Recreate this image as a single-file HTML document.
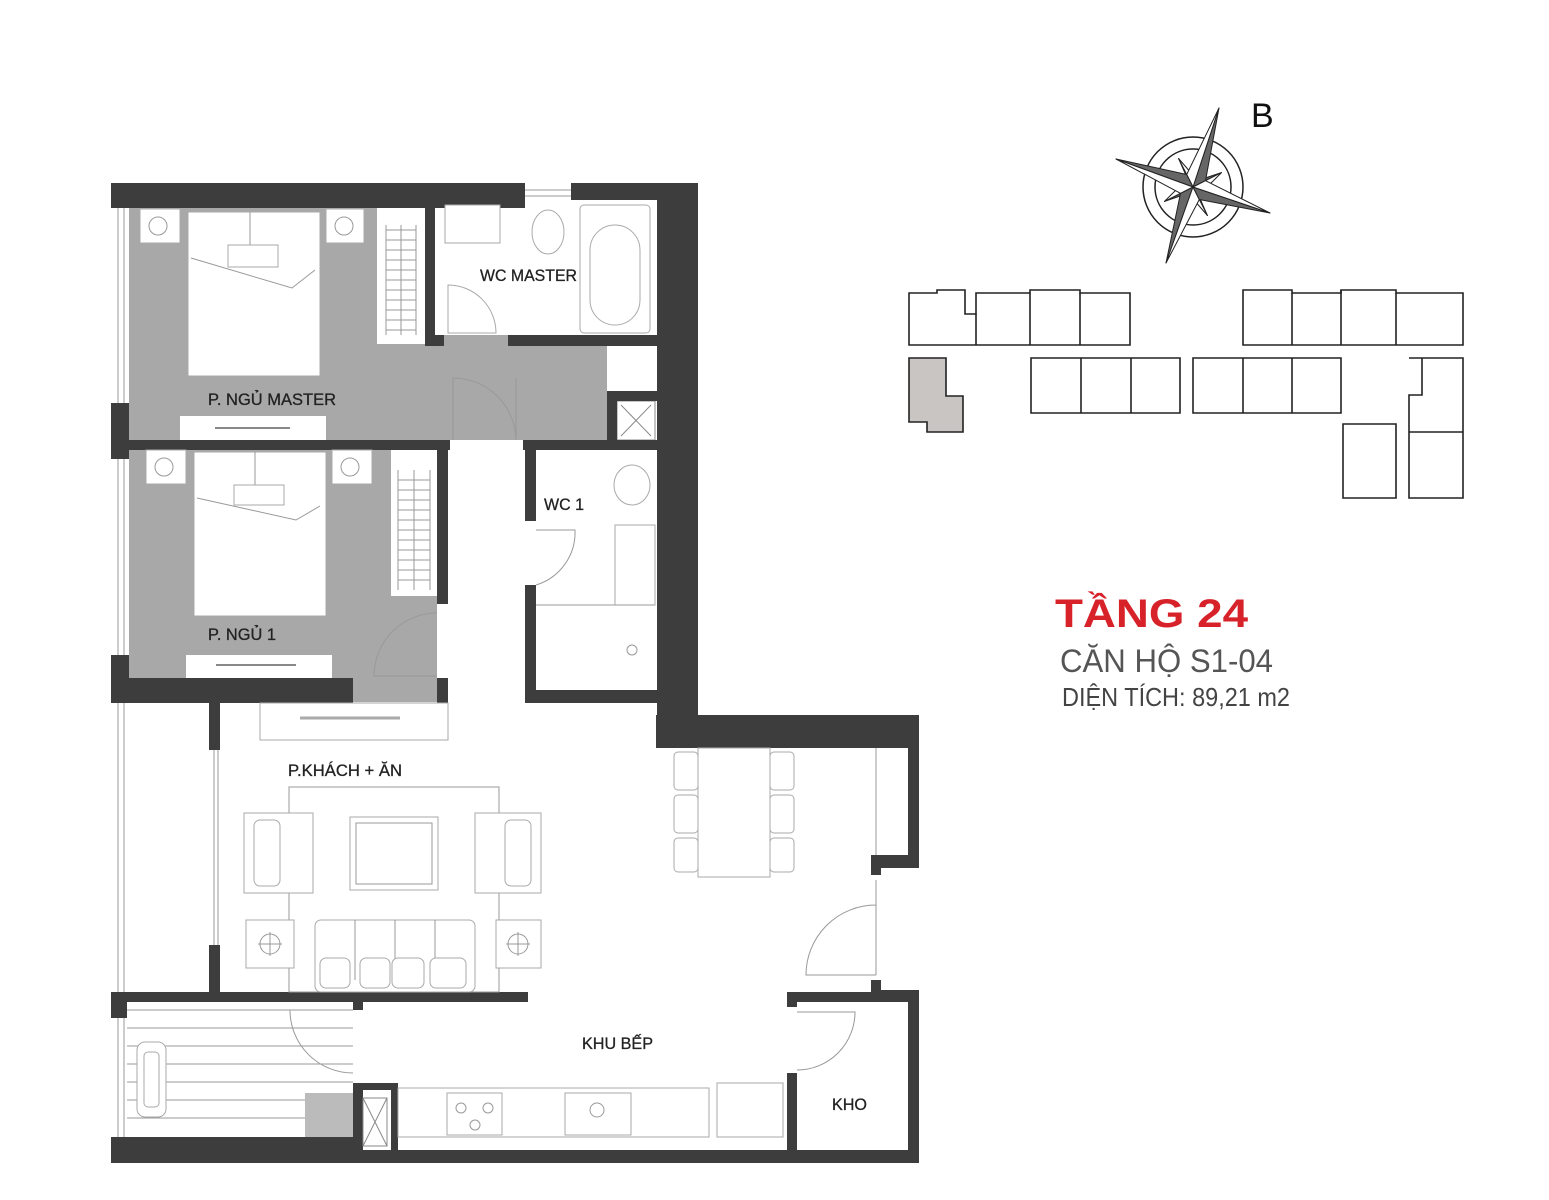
<!DOCTYPE html>
<html><head><meta charset="utf-8"><style>
html,body{margin:0;padding:0;background:#fff;}
svg{display:block}
.w{fill:#3d3d3d}
.l{fill:none;stroke:#999;stroke-width:1}
.f{fill:#fff;stroke:#aaa;stroke-width:1}
.t{font-family:"Liberation Sans",sans-serif;fill:#222;font-size:17px;stroke:#222;stroke-width:0.3}
.b{fill:#fff;stroke:#222;stroke-width:1.6}
</style></head><body>
<svg width="1549" height="1200" viewBox="0 0 1549 1200" xmlns="http://www.w3.org/2000/svg">
<rect x="129" y="208" width="478" height="232" fill="#a8a8a8"/>
<rect x="129" y="450" width="308" height="228" fill="#a8a8a8"/>
<rect x="353" y="678" width="84" height="24" fill="#a8a8a8"/>
<rect x="435" y="200" width="220" height="135" fill="#fff"/>
<rect x="607" y="346" width="48" height="45" fill="#fff"/>
<rect x="617" y="401" width="38" height="39" fill="#fff" stroke="#888"/>
<path d="M621 405L651 436M651 405L621 436" stroke="#888" stroke-width="1"/>
<rect class="w" x="111" y="183" width="414" height="25"/>
<rect class="w" x="571" y="183" width="86" height="17"/>
<rect class="w" x="657" y="183" width="41" height="565"/>
<rect class="w" x="425" y="200" width="10" height="146"/>
<rect class="w" x="425" y="335" width="19" height="11"/>
<rect class="w" x="508" y="335" width="149" height="11"/>
<rect class="w" x="607" y="391" width="50" height="10"/>
<rect class="w" x="607" y="391" width="10" height="49"/>
<rect class="w" x="111" y="403" width="18" height="56"/>
<rect class="w" x="111" y="440" width="339" height="10"/>
<rect class="w" x="523" y="440" width="134" height="10"/>
<rect class="w" x="437" y="450" width="11" height="154"/>
<rect class="w" x="437" y="678" width="11" height="25"/>
<rect class="w" x="525" y="450" width="11" height="71"/>
<rect class="w" x="525" y="585" width="11" height="118"/>
<rect class="w" x="525" y="690" width="132" height="13"/>
<rect class="w" x="111" y="655" width="18" height="23"/>
<rect class="w" x="111" y="678" width="242" height="25"/>
<rect class="w" x="656" y="715" width="263" height="33"/>
<rect class="w" x="908" y="748" width="11" height="120"/>
<rect class="w" x="871" y="855" width="48" height="13"/>
<rect class="w" x="871" y="855" width="10" height="20"/>
<rect class="w" x="871" y="980" width="10" height="22"/>
<rect class="w" x="871" y="990" width="48" height="12"/>
<rect class="w" x="908" y="990" width="11" height="173"/>
<rect class="w" x="787" y="992" width="132" height="10"/>
<rect class="w" x="787" y="992" width="10" height="15"/>
<rect class="w" x="787" y="1073" width="10" height="80"/>
<rect class="w" x="209" y="703" width="11" height="47"/>
<rect class="w" x="209" y="945" width="11" height="50"/>
<rect class="w" x="111" y="992" width="417" height="10"/>
<rect class="w" x="111" y="992" width="16" height="26"/>
<rect class="w" x="353" y="1002" width="10" height="8"/>
<rect class="w" x="353" y="1083" width="10" height="80"/>
<rect class="w" x="111" y="1137" width="244" height="26"/>
<rect class="w" x="353" y="1150" width="566" height="13"/>
<rect class="w" x="353" y="1083" width="45" height="7"/>
<rect class="w" x="391" y="1083" width="7" height="70"/>
<rect x="363" y="1098" width="24" height="48" fill="#fff" stroke="#888"/>
<path d="M363 1098L387 1146M387 1098L363 1146" stroke="#888"/>
<path d="M118 208V403M124 208V403M118 459V655M124 459V655M118 703V992M124 703V992M214 750V945M218 750V945M118 1018V1137M124 1018V1137" class="l"/>
<path d="M525 190H571M525 196H571" class="l"/>
<g class="l"><path d="M127 1010H353M127 1028H353M127 1046H353M127 1064H353M127 1082H353M127 1100H353M127 1118H353"/></g>
<rect x="137" y="1042" width="29" height="75" rx="8" class="f"/>
<rect x="144" y="1052" width="15" height="55" rx="4" class="f"/>
<rect x="305" y="1093" width="48" height="44" fill="#bbb"/>
<rect x="140" y="209" width="40" height="34" class="f"/><circle cx="158" cy="226" r="9" class="l"/>
<rect x="326" y="209" width="38" height="34" class="f"/><circle cx="344" cy="226" r="9" class="l"/>
<rect x="188" y="212" width="132" height="164" class="f"/>
<path d="M191 258L292 288L315 270M250 212V245" class="l"/>
<rect x="228" y="245" width="50" height="22" class="f"/>
<rect x="377" y="208" width="48" height="136" fill="#fff"/>
<path d="M386 225V335M416 225V335M386 230H416M386 240H416M386 250H416M386 260H416M386 270H416M386 280H416M386 290H416M386 300H416M386 310H416M386 320H416M386 330H416M401 225V335" class="l"/>
<rect x="180" y="416" width="146" height="24" fill="#fff"/>
<path d="M215 428H290" stroke="#888" stroke-width="2"/>
<rect x="445" y="205" width="55" height="38" class="f"/>
<ellipse cx="548" cy="232" rx="16" ry="22" class="f"/>
<rect x="580" y="205" width="70" height="128" rx="4" class="f"/>
<rect x="590" y="225" width="50" height="100" rx="25" class="f"/>
<path d="M448 285A48 48 0 0 1 496 333H448Z" class="f"/>
<path d="M453 440V378A63 63 0 0 1 516 440M516 378V440" class="l"/>
<rect x="146" y="450" width="40" height="34" class="f"/><circle cx="164" cy="467" r="9" class="l"/>
<rect x="332" y="450" width="40" height="34" class="f"/><circle cx="350" cy="467" r="9" class="l"/>
<rect x="194" y="452" width="132" height="164" class="f"/>
<path d="M197 498L296 520L320 506M255 452V485" class="l"/>
<rect x="234" y="485" width="50" height="20" class="f"/>
<rect x="391" y="450" width="46" height="146" fill="#fff"/>
<path d="M398 470V590M430 470V590M398 480H430M398 490H430M398 500H430M398 510H430M398 520H430M398 530H430M398 540H430M398 550H430M398 560H430M398 570H430M398 580H430M414 470V590" class="l"/>
<rect x="186" y="655" width="146" height="23" fill="#fff"/>
<path d="M216 665H296" stroke="#888" stroke-width="2"/>
<path d="M437 613A63 63 0 0 0 374 676H437" class="l"/>
<ellipse cx="632" cy="485" rx="18" ry="20" class="f"/>
<rect x="615" y="525" width="40" height="80" class="f"/>
<path d="M536 605H655M536 530H575A55 55 0 0 1 536 585" class="l"/>
<circle cx="632" cy="650" r="5" class="l"/>
<rect x="260" y="703" width="188" height="37" class="f"/>
<path d="M300 718H400" stroke="#aaa" stroke-width="3"/>
<rect x="289" y="787" width="210" height="205" class="l"/>
<rect x="244" y="813" width="69" height="80" class="f"/>
<rect x="254" y="820" width="26" height="66" rx="6" class="f"/>
<rect x="475" y="813" width="66" height="80" class="f"/>
<rect x="505" y="820" width="26" height="66" rx="6" class="f"/>
<rect x="350" y="817" width="88" height="73" class="f"/>
<rect x="356" y="823" width="76" height="61" class="l"/>
<rect x="246" y="920" width="48" height="48" class="f"/><circle cx="270" cy="944" r="10" class="l"/><path d="M258 944H282M270 932V956" class="l"/>
<rect x="496" y="920" width="45" height="48" class="f"/><circle cx="518" cy="944" r="10" class="l"/><path d="M506 944H530M518 932V956" class="l"/>
<rect x="315" y="920" width="160" height="72" rx="6" class="f"/>
<path d="M355 920V980M395 920V980M435 920V980" class="l"/>
<rect x="320" y="958" width="30" height="30" rx="6" class="f"/><rect x="360" y="958" width="30" height="30" rx="6" class="f"/><rect x="392" y="958" width="32" height="30" rx="6" class="f"/><rect x="430" y="958" width="36" height="30" rx="6" class="f"/>
<rect x="698" y="748" width="72" height="129" class="f"/>
<rect x="674" y="752" width="24" height="38" rx="4" class="f"/><rect x="674" y="795" width="24" height="38" rx="4" class="f"/><rect x="674" y="838" width="24" height="34" rx="4" class="f"/>
<rect x="770" y="752" width="24" height="38" rx="4" class="f"/><rect x="770" y="795" width="24" height="38" rx="4" class="f"/><rect x="770" y="838" width="24" height="34" rx="4" class="f"/>
<path d="M876 748V855" class="l"/>
<path d="M876 880V975M876 905A70 70 0 0 0 806 975H876" class="l"/>
<path d="M290 1010H353M290 1010A63 63 0 0 0 353 1073" class="l"/>
<rect x="398" y="1088" width="311" height="49" class="f"/>
<rect x="447" y="1093" width="55" height="42" class="f"/>
<circle cx="461" cy="1108" r="5" class="l"/><circle cx="488" cy="1108" r="5" class="l"/><circle cx="475" cy="1125" r="5" class="l"/>
<rect x="565" y="1093" width="66" height="42" class="f"/><circle cx="597" cy="1110" r="7" class="l"/>
<rect x="717" y="1083" width="66" height="54" class="f"/>
<path d="M797 1012H855A58 58 0 0 1 797 1070" class="l"/>
<text class="t" x="480" y="281" textLength="97" lengthAdjust="spacingAndGlyphs">WC MASTER</text>
<text class="t" x="208" y="405" textLength="128" lengthAdjust="spacingAndGlyphs">P. NGỦ MASTER</text>
<text class="t" x="208" y="640" textLength="68" lengthAdjust="spacingAndGlyphs">P. NGỦ 1</text>
<text class="t" x="544" y="510" textLength="40" lengthAdjust="spacingAndGlyphs">WC 1</text>
<text class="t" x="288" y="776" textLength="114" lengthAdjust="spacingAndGlyphs">P.KHÁCH + ĂN</text>
<text class="t" x="582" y="1049" textLength="71" lengthAdjust="spacingAndGlyphs">KHU BẾP</text>
<text class="t" x="832" y="1110" textLength="35" lengthAdjust="spacingAndGlyphs">KHO</text>
<!-- compass -->
<circle cx="1193" cy="187" r="50" fill="#fff" stroke="#222" stroke-width="1.5"/>
<circle cx="1193" cy="187" r="38" fill="none" stroke="#222" stroke-width="1.5"/>
<g stroke="#222" stroke-width="1" stroke-linejoin="round">
<!-- secondary points -->
<polygon points="1221.5,172.6 1199,180 1193,187" fill="#666"/><polygon points="1221.5,172.6 1202,192 1193,187" fill="#fff"/>
<polygon points="1178.6,158.5 1188,180 1193,187" fill="#666"/><polygon points="1178.6,158.5 1198,181 1193,187" fill="#fff"/>
<polygon points="1164.5,201.4 1186,194 1193,187" fill="#666"/><polygon points="1164.5,201.4 1184,182 1193,187" fill="#fff"/>
<polygon points="1207.4,215.5 1198,194 1193,187" fill="#666"/><polygon points="1207.4,215.5 1188,193 1193,187" fill="#fff"/>
<!-- main points -->
<polygon points="1219,108 1205.5,180.7 1193,187" fill="#666"/>
<polygon points="1219,108 1186.7,174.5 1193,187" fill="#fff"/>
<polygon points="1166,263 1180.5,193.3 1193,187" fill="#666"/>
<polygon points="1166,263 1199.3,199.5 1193,187" fill="#fff"/>
<polygon points="1116,159 1186.7,174.5 1193,187" fill="#666"/>
<polygon points="1116,159 1180.5,193.3 1193,187" fill="#fff"/>
<polygon points="1270,213 1199.3,199.5 1193,187" fill="#666"/>
<polygon points="1270,213 1205.5,180.7 1193,187" fill="#fff"/>
</g>
<text x="1251" y="127" font-family="Liberation Sans,sans-serif" font-size="34" fill="#111">B</text>
<g class="b">
<path d="M909 293H937V290H965V314H976V293H1030V290H1080V293H1130V345H909Z"/>
<path d="M976 314V345M1030 293V345M1080 293V345"/>
<path d="M1243 290H1292V293H1341V290H1396V293H1463V345H1243Z"/>
<path d="M1292 293V345M1341 290V345M1396 293V345"/>
<path d="M1031 358H1180V413H1031Z"/><path d="M1081 358V413M1131 358V413"/>
<path d="M1193 358H1341V413H1193Z"/><path d="M1243 358V413M1292 358V413"/>
<path d="M1409 358H1463V498H1409V432H1409V395H1422V358Z"/><path d="M1409 432H1463"/>
<path d="M1343 424H1396V498H1343Z"/>
</g>
<path d="M909 358H946V396H963V432H927V422H909Z" fill="#c8c5c2" stroke="#222" stroke-width="1.6"/>
<text x="1055" y="627" font-family="Liberation Sans,sans-serif" font-weight="bold" font-size="40" fill="#d7222a" textLength="193" lengthAdjust="spacingAndGlyphs">TẦNG 24</text>
<text x="1060" y="672" font-family="Liberation Sans,sans-serif" font-size="32" fill="#555" textLength="213" lengthAdjust="spacingAndGlyphs">CĂN HỘ S1-04</text>
<text x="1062" y="706" font-family="Liberation Sans,sans-serif" font-size="26" fill="#444" textLength="228" lengthAdjust="spacingAndGlyphs">DIỆN TÍCH: 89,21 m2</text>
</svg>
</body></html>
